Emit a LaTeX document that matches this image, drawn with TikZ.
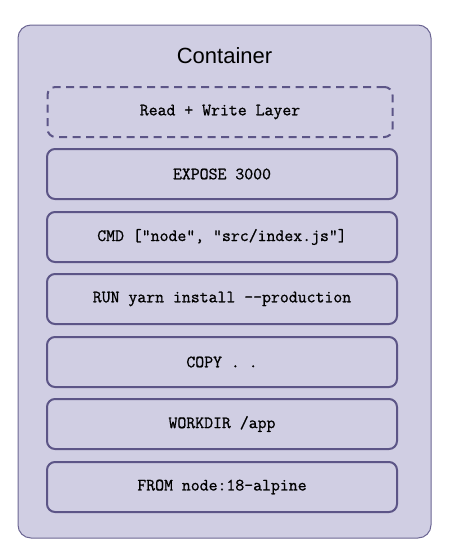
\documentclass[tikz,border=0pt]{standalone}
\usepackage{fontspec}
\setmainfont{Liberation Sans}
\newfontfamily\layerfont[FakeBold=0.9]{Latin Modern Mono}
\definecolor{boxfill}{RGB}{208,206,227}
\definecolor{boxline}{RGB}{92,85,135}
\begin{document}
\begin{tikzpicture}[x=1pt,y=-1pt,
  layer/.style={draw=boxline,line width=2pt,rounded corners=8pt,minimum width=350pt,minimum height=50pt,
    inner sep=0pt,font=\layerfont\fontsize{17.3}{20}\selectfont,text=black},
  rwlayer/.style={layer,dashed,dash pattern=on 8pt off 5.5pt,minimum width=345pt}]
\useasboundingbox (0,0) rectangle (452,552);
\node[draw=boxline!90,fill=boxfill,line width=1pt,rounded corners=13pt,minimum width=413pt,minimum height=513pt,inner sep=0pt] (container) at (224.5,281.5) {};
\node[font=\fontsize{22}{26}\selectfont] (title) at (224.5,55.5) {Container};
\node[rwlayer] (rw) at (220,112) {Read + Write Layer};
\node[layer] (expose) at (222,174) {EXPOSE 3000};
\node[layer] (cmd) at (222,237) {CMD ["node", "src/index.js"]};
\node[layer] (run) at (222,299) {RUN yarn install --production};
\node[layer] (copy) at (222,362) {COPY . .};
\node[layer] (workdir) at (222,424) {WORKDIR /app};
\node[layer] (from) at (222,487) {FROM node:18-alpine};
\end{tikzpicture}
\end{document}
